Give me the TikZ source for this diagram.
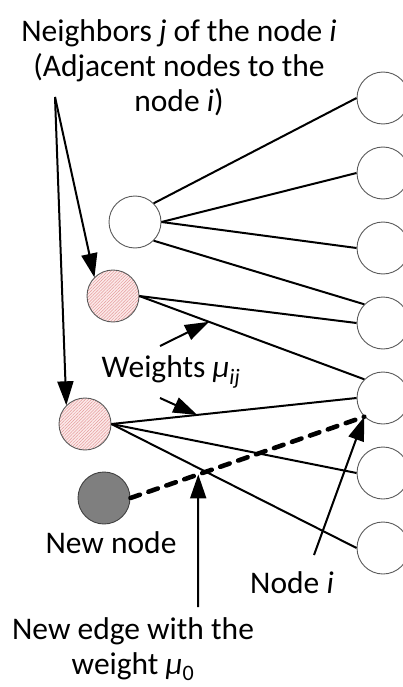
\documentclass[tikz,border=0pt]{standalone}
\usepackage{fontspec}
\setmainfont{Carlito}
\usetikzlibrary{arrows.meta,patterns.meta}
\definecolor{hatchpink}{HTML}{FCEAEA}
\definecolor{hatchred}{HTML}{E49C9C}
\definecolor{rimgray}{HTML}{5A5A5A}
\definecolor{newgray}{HTML}{7F7F7F}
\begin{document}
\begin{tikzpicture}[x=1pt,y=-1pt,
  vtx/.style={circle,draw=rimgray,line width=0.9pt,minimum size=52pt,inner sep=0pt},
  plain/.style={vtx,fill=white},
  nbr/.style={vtx,preaction={fill=hatchpink},
    pattern={Lines[angle=45,distance=2.2pt,line width=0.5pt]},pattern color=hatchred},
  fresh/.style={vtx,fill=newgray,draw=black!75},
  edge/.style={line width=2pt},
  pointer/.style={line width=2pt,-{Triangle[length=24pt,width=16pt]}},
  newedge/.style={line width=4.6pt,dash pattern=on 10pt off 9pt,line cap=round},
  lbl/.style={font=\fontsize{31.5}{35}\selectfont,inner sep=0pt,align=center}]
\useasboundingbox (0,0) rectangle (403,687);
\clip (0,0) rectangle (403,687);

% right-hand column of nodes, r5 is node i
\foreach \k/\yy in {1/98,2/173,3/248,4/323,5/398,6/473,7/548}
  \node[plain] (r\k) at (383,\yy) {};

% left-hand nodes
\node[plain] (w)  at (135,222) {};
\node[nbr]   (h1) at (113,296) {};
\node[nbr]   (h2) at (85,424)  {};
\node[fresh] (g)  at (104,498) {};

% existing edges
\draw[edge] (w.north east) -- (r1.west);
\draw[edge] (w.east) -- (r2.west);
\draw[edge] (w.east) -- (r3.west);
\draw[edge] (w.south east) -- (r4.north west);
\draw[edge] (h1.east) -- (r4.west);
\draw[edge] (h1.east) -- (r5.north west) coordinate[pos=0.31] (e1);
\draw[edge] (h2.east) -- (r5.west) coordinate[pos=0.35] (e2);
\draw[edge] (h2.east) -- (r6.west);
\draw[edge] (h2.east) -- (r7.west);

% new edge from the new node to node i
\draw[newedge] (g.east) -- (r5.south west) coordinate[pos=0.29] (e0);

% labels
\node[lbl] (nbrtxt) at (179,68) {Neighbors \textit{j} of the node \textit{i}\\(Adjacent nodes to the\\node \textit{i})};
\node[lbl] (wtxt) at (171,372) {Weights \textit{μ}\textsubscript{\textit{ij}}};
\node[lbl] (gtxt) at (111,543) {New node};
\node[lbl] (itxt) at (292,583) {Node \textit{i}};
\node[lbl] (etxt) at (133,649) {New edge with the\\weight \textit{μ}\textsubscript{0}};

% pointers
\coordinate (nsrc) at (55,97);
\draw[pointer] (nsrc) -- (h1.north west);
\draw[pointer] (nsrc) -- (h2.north west);
\coordinate (wsrc1) at (160,346);
\coordinate (wsrc2) at (160,398);
\draw[pointer] (wsrc1) -- (e1);
\draw[pointer] (wsrc2) -- (e2);
\coordinate (esrc) at (198,607);
\draw[pointer] (esrc) -- (e0);
\coordinate (isrc) at (314,555);
\draw[pointer] (isrc) -- (r5.south west);
\end{tikzpicture}
\end{document}
